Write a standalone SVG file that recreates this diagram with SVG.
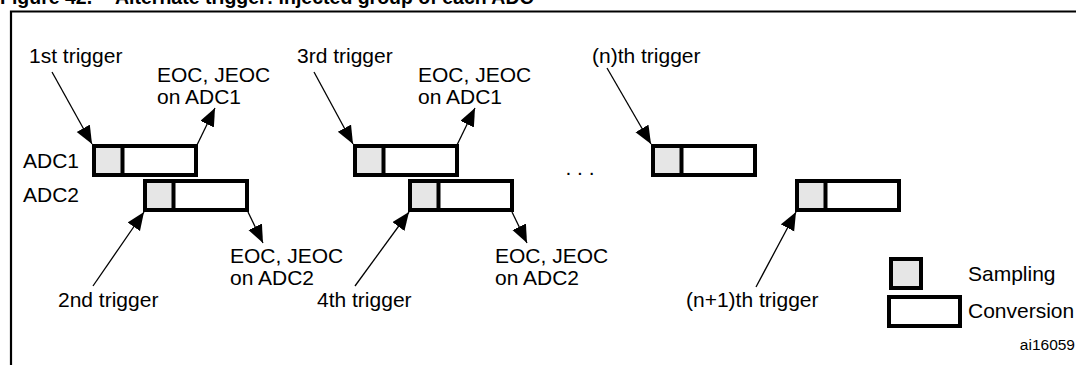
<svg xmlns="http://www.w3.org/2000/svg" width="1076" height="365" viewBox="0 0 1076 365">
<style>
.t{font-family:"Liberation Sans",Arial,Helvetica,sans-serif;font-size:21px;fill:#000}
.title{font-family:"Liberation Sans",Arial,Helvetica,sans-serif;font-size:19.5px;font-weight:bold;fill:#000}
.small{font-family:"Liberation Sans",Arial,Helvetica,sans-serif;font-size:15.5px;fill:#000}
.bg{fill:#fff;stroke:none}
.smp{fill:#e6e6e6;stroke:none}
.out{fill:none;stroke:#000;stroke-width:4}
.div{stroke:#000;stroke-width:4}
.conn line{stroke:#000;stroke-width:1.3;marker-end:url(#ah)}
.frame{fill:none;stroke:#000;stroke-width:2.2}
</style>
<defs>
<marker id="ah" markerUnits="userSpaceOnUse" markerWidth="19" markerHeight="16" refX="18" refY="7.5" orient="auto">
<path d="M0,0 L18,7.5 L0,15 z" fill="#000"/>
</marker>
<g id="cell">
<rect class="bg" x="0" y="0" width="102" height="29"/>
<rect class="smp" x="0" y="0" width="28.5" height="29"/>
<rect class="out" x="0" y="0" width="102" height="29"/>
<line class="div" x1="28.5" y1="0" x2="28.5" y2="29"/>
</g>
</defs>
<rect x="0" y="0" width="1076" height="365" fill="#fff"/>
<g id="title">
<text class="title" x="0" y="4">Figure 42.</text>
<text class="title" x="115" y="4">Alternate trigger: injected group of each ADC</text>
</g>
<path id="frame" class="frame" d="M11,365 V11.5 H1076"/>

<g id="adc1-box1"><use href="#cell" x="94" y="146"/></g>
<g id="adc2-box1"><use href="#cell" x="145" y="181"/></g>
<g id="adc1-box2"><use href="#cell" x="355" y="146"/></g>
<g id="adc2-box2"><use href="#cell" x="410" y="181"/></g>
<g id="adc1-boxn"><use href="#cell" x="653" y="146"/></g>
<g id="adc2-boxn1"><use href="#cell" x="797" y="181"/></g>

<g id="legend-sampling">
<rect class="smp" x="891" y="259" width="30" height="29"/>
<rect class="out" x="891" y="259" width="30" height="29"/>
<text class="t" x="968" y="281">Sampling</text>
</g>
<g id="legend-conversion">
<rect class="out" x="889" y="297" width="71" height="29"/>
<text class="t" x="968" y="318">Conversion</text>
</g>

<g id="labels">
<text class="t" x="29" y="63">1st trigger</text>
<text class="t" x="157" y="82">EOC, JEOC</text>
<text class="t" x="157" y="104">on ADC1</text>
<text class="t" x="23" y="168">ADC1</text>
<text class="t" x="23" y="202">ADC2</text>
<text class="t" x="230" y="263">EOC, JEOC</text>
<text class="t" x="230" y="285">on ADC2</text>
<text class="t" x="58" y="307">2nd trigger</text>
<text class="t" x="297" y="63">3rd trigger</text>
<text class="t" x="418" y="82">EOC, JEOC</text>
<text class="t" x="418" y="104">on ADC1</text>
<text class="t" x="495" y="263">EOC, JEOC</text>
<text class="t" x="495" y="285">on ADC2</text>
<text class="t" x="317" y="307">4th trigger</text>
<text class="t" x="565.4" y="175">. . .</text>
<text class="t" x="592" y="63">(n)th trigger</text>
<text class="t" x="686" y="307">(n+1)th trigger</text>
<text class="small" x="1075" y="350" text-anchor="end">ai16059</text>
</g>

<g id="connectors" class="conn">
<line x1="52" y1="72" x2="92" y2="144"/>
<line x1="197" y1="145" x2="215" y2="108"/>
<line x1="93" y1="286" x2="144" y2="212"/>
<line x1="248" y1="212" x2="263" y2="243"/>
<line x1="314" y1="72" x2="353" y2="144"/>
<line x1="457" y1="145" x2="475" y2="108"/>
<line x1="355" y1="286" x2="409" y2="212"/>
<line x1="512" y1="212" x2="527" y2="243"/>
<line x1="607" y1="68" x2="651" y2="144"/>
<line x1="756" y1="287" x2="796" y2="212"/>
</g>
</svg>
